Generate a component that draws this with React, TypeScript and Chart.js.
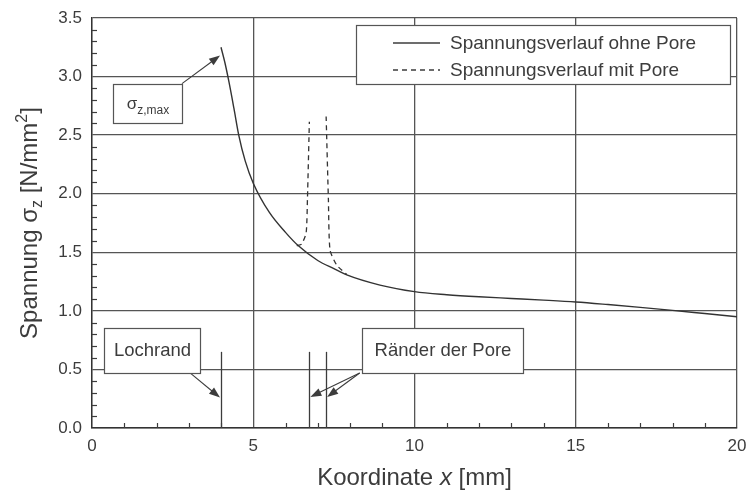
import React, { useEffect, useRef } from 'react';
import { Chart, registerables } from 'chart.js';

Chart.register(...registerables);

// ---- data ----
const xNoPore = [4.0, 4.12, 4.25, 4.4, 4.55, 4.75, 5.0, 5.5, 6.0, 6.4, 7.0, 7.5, 7.9, 8.93, 10, 11, 12, 13, 14, 15, 16, 17, 18, 19, 20];
const yNoPore = [3.25, 3.12, 2.95, 2.73, 2.5, 2.28, 2.09, 1.84, 1.67, 1.555, 1.43, 1.36, 1.307, 1.22, 1.164, 1.138, 1.12, 1.106, 1.092, 1.076, 1.054, 1.03, 1.004, 0.977, 0.95];

const xWithPore = [6.35, 6.5, 6.64, 6.68, 6.74, 7.0, 7.26, 7.33, 7.38, 7.59, 7.9];
const yWithPore = [1.555, 1.57, 1.665, 1.95, 2.615, null, 2.66, 1.95, 1.52, 1.39, 1.31];

const seriesLabels = ['Spannungsverlauf ohne Pore', 'Spannungsverlauf mit Pore'];

const xTicks = [0, 5, 10, 15, 20];
const yTicks = [0.0, 0.5, 1.0, 1.5, 2.0, 2.5, 3.0, 3.5];

// annotation values (data units)
const edgeLines = [4.0, 6.74, 7.26];
const edgeLineTop = 0.65;
const lochrandLabel = 'Lochrand';
const poreLabel = 'Ränder der Pore';
const sigmaPeak = { x: 3.97, y: 3.18 };

const INK = '#3c3c3c';
const FONT = '"Liberation Sans", Arial, sans-serif';

function arrow(ctx: CanvasRenderingContext2D, x1: number, y1: number, x2: number, y2: number) {
  const ang = Math.atan2(y2 - y1, x2 - x1);
  const L = 11, W = 4;
  ctx.beginPath();
  ctx.moveTo(x1, y1);
  ctx.lineTo(x2 - Math.cos(ang) * L * 0.8, y2 - Math.sin(ang) * L * 0.8);
  ctx.stroke();
  ctx.beginPath();
  ctx.moveTo(x2, y2);
  ctx.lineTo(x2 - Math.cos(ang) * L - Math.sin(ang) * W, y2 - Math.sin(ang) * L + Math.cos(ang) * W);
  ctx.lineTo(x2 - Math.cos(ang) * L + Math.sin(ang) * W, y2 - Math.sin(ang) * L - Math.cos(ang) * W);
  ctx.closePath();
  ctx.fill();
}

type Part = { t: string; size: number; dy: number; italic?: boolean };
function rich(ctx: CanvasRenderingContext2D, parts: Part[], cx: number, baseY: number) {
  let total = 0;
  const widths = parts.map((p) => {
    ctx.font = `${p.italic ? 'italic ' : ''}${p.size}px ${FONT}`;
    const w = ctx.measureText(p.t).width;
    total += w;
    return w;
  });
  let x = cx - total / 2;
  ctx.textAlign = 'left';
  ctx.textBaseline = 'alphabetic';
  parts.forEach((p, i) => {
    ctx.font = `${p.italic ? 'italic ' : ''}${p.size}px ${FONT}`;
    ctx.fillText(p.t, x, baseY + p.dy);
    x += widths[i];
  });
}

const annotPlugin = {
  id: 'annot',
  afterDraw(chart: any) {
    const ctx: CanvasRenderingContext2D = chart.ctx;
    const xs = chart.scales.x;
    const ys = chart.scales.y;
    const area = chart.chartArea;
    const X = (v: number) => xs.getPixelForValue(v);
    const Y = (v: number) => ys.getPixelForValue(v);
    ctx.save();
    ctx.strokeStyle = INK;
    ctx.fillStyle = INK;
    ctx.lineWidth = 1.2;

    // minor ticks
    for (let i = 1; i < 35; i++) {
      if (i % 5 === 0) continue;
      const y = Math.round(Y(i / 10)) + 0.5;
      ctx.beginPath();
      ctx.moveTo(area.left, y);
      ctx.lineTo(area.left + 5, y);
      ctx.stroke();
    }
    for (let i = 1; i < 20; i++) {
      if (i % 5 === 0) continue;
      const x = Math.round(X(i)) + 0.5;
      ctx.beginPath();
      ctx.moveTo(x, area.bottom);
      ctx.lineTo(x, area.bottom - 5);
      ctx.stroke();
    }

    // edge lines
    ctx.lineWidth = 1.3;
    edgeLines.forEach((v) => {
      const x = Math.round(X(v)) + 0.5;
      ctx.beginPath();
      ctx.moveTo(x, Y(0));
      ctx.lineTo(x, Y(edgeLineTop));
      ctx.stroke();
    });

    const box = (x0: number, y0: number, x1: number, y1: number) => {
      const l = Math.round(X(x0)) + 0.5, r = Math.round(X(x1)) + 0.5;
      const t = Math.round(Y(y0)) + 0.5, b = Math.round(Y(y1)) + 0.5;
      ctx.fillStyle = '#ffffff';
      ctx.fillRect(l, t, r - l, b - t);
      ctx.strokeStyle = '#555';
      ctx.lineWidth = 1.2;
      ctx.strokeRect(l, t, r - l, b - t);
      ctx.fillStyle = INK;
      ctx.strokeStyle = INK;
      return { l, r, t, b };
    };

    // Lochrand
    ctx.lineWidth = 1.1;
    arrow(ctx, X(3.04), Y(0.47), X(4.0) - 1, Y(0.26));
    const b1 = box(0.37, 0.855, 3.35, 0.47);
    ctx.font = `18.5px ${FONT}`;
    ctx.textAlign = 'center';
    ctx.textBaseline = 'middle';
    ctx.fillText(lochrandLabel, (b1.l + b1.r) / 2, (b1.t + b1.b) / 2);

    // Pore edges
    ctx.lineWidth = 1.1;
    arrow(ctx, X(8.3), Y(0.47), X(6.74) + 1, Y(0.265));
    arrow(ctx, X(8.3), Y(0.47), X(7.26) + 1, Y(0.265));
    const b2 = box(8.37, 0.855, 13.36, 0.47);
    ctx.font = `18.5px ${FONT}`;
    ctx.textAlign = 'center';
    ctx.textBaseline = 'middle';
    ctx.fillText(poreLabel, (b2.l + b2.r) / 2, (b2.t + b2.b) / 2);

    // sigma max
    ctx.lineWidth = 1.1;
    arrow(ctx, X(2.79), Y(2.94), X(sigmaPeak.x), Y(sigmaPeak.y));
    const b3 = box(0.65, 2.94, 2.79, 2.6);
    rich(
      ctx,
      [
        { t: 'σ', size: 17, dy: 0 },
        { t: 'z,max', size: 12, dy: 5 },
      ],
      (b3.l + b3.r) / 2,
      (b3.t + b3.b) / 2 + 5
    );

    // legend
    const lg = { l: area.left + 264.5, t: area.top + 7.5, r: area.left + 638.5, b: area.top + 66.5 };
    ctx.fillStyle = '#fff';
    ctx.fillRect(lg.l, lg.t, lg.r - lg.l, lg.b - lg.t);
    ctx.strokeStyle = '#555';
    ctx.lineWidth = 1.2;
    ctx.strokeRect(lg.l, lg.t, lg.r - lg.l, lg.b - lg.t);
    const rows = [area.top + 25, area.top + 52];
    chart.data.datasets.forEach((ds: any, i: number) => {
      ctx.strokeStyle = INK;
      ctx.lineWidth = 1.3;
      ctx.setLineDash(ds.borderDash || []);
      ctx.beginPath();
      ctx.moveTo(area.left + 301, rows[i]);
      ctx.lineTo(area.left + 348, rows[i]);
      ctx.stroke();
      ctx.setLineDash([]);
      ctx.fillStyle = INK;
      ctx.font = `19px ${FONT}`;
      ctx.textAlign = 'left';
      ctx.textBaseline = 'middle';
      ctx.fillText(ds.label, area.left + 358, rows[i] + 1);
    });

    // axis titles
    ctx.fillStyle = INK;
    rich(
      ctx,
      [
        { t: 'Koordinate ', size: 24, dy: 0 },
        { t: 'x', size: 24, dy: 0, italic: true },
        { t: ' [mm]', size: 24, dy: 0 },
      ],
      (area.left + area.right) / 2,
      485
    );
    ctx.save();
    ctx.translate(28, (area.top + area.bottom) / 2);
    ctx.rotate(-Math.PI / 2);
    rich(
      ctx,
      [
        { t: 'Spannung σ', size: 24, dy: 0 },
        { t: 'z', size: 16, dy: 5 },
        { t: ' [N/mm', size: 24, dy: 0 },
        { t: '2', size: 16, dy: -10 },
        { t: ']', size: 24, dy: 0 },
      ],
      0,
      9
    );
    ctx.restore();

    ctx.restore();
  },
};

export default function App() {
  const ref = useRef<HTMLCanvasElement | null>(null);
  useEffect(() => {
    if (!ref.current) return;
    const chart = new Chart(ref.current, {
      type: 'line',
      data: {
        datasets: [
          {
            label: seriesLabels[0],
            data: xNoPore.map((x, i) => ({ x, y: yNoPore[i] })),
            borderColor: '#333',
            borderWidth: 1.4,
            pointRadius: 0,
            cubicInterpolationMode: 'monotone',
            fill: false,
          },
          {
            label: seriesLabels[1],
            data: xWithPore.map((x, i) => ({ x, y: yWithPore[i] as any })),
            borderColor: '#333',
            borderWidth: 1.3,
            borderDash: [5, 4],
            pointRadius: 0,
            tension: 0.2,
            spanGaps: false,
            fill: false,
          },
        ],
      },
      options: {
        animation: false,
        responsive: false,
        devicePixelRatio: 1,
        layout: { padding: { top: 18, right: 10, left: 0, bottom: 0 } },
        plugins: { legend: { display: false }, tooltip: { enabled: false }, title: { display: false } },
        scales: {
          x: {
            type: 'linear',
            min: 0,
            max: 20,
            afterBuildTicks: (s: any) => {
              s.ticks = xTicks.map((v) => ({ value: v }));
            },
            afterFit: (s: any) => {
              s.height = 64;
              s.paddingLeft = 0;
              s.paddingRight = 0;
            },
            ticks: {
              color: INK,
              font: { family: FONT, size: 17 },
              padding: 8,
              maxRotation: 0,
              callback: (v: any) => String(v),
            },
            grid: { color: '#555', lineWidth: 1.3, drawTicks: false },
            border: { display: true, color: '#333', width: 1.4 },
          },
          y: {
            type: 'linear',
            min: 0,
            max: 3.5,
            afterBuildTicks: (s: any) => {
              s.ticks = yTicks.map((v) => ({ value: v }));
            },
            afterFit: (s: any) => {
              s.width = 92;
              s.paddingTop = 0;
              s.paddingBottom = 0;
            },
            ticks: {
              color: INK,
              font: { family: FONT, size: 17 },
              padding: 10,
              callback: (v: any) => Number(v).toFixed(1),
            },
            grid: { color: '#555', lineWidth: 1.3, drawTicks: false },
            border: { display: true, color: '#333', width: 1.4 },
          },
        },
      },
      plugins: [annotPlugin],
    } as any);
    return () => chart.destroy();
  }, []);
  return (
    <div style={{ position: 'absolute', left: 0, top: 0, width: 747, height: 492, background: '#fff' }}>
      <canvas ref={ref} width={747} height={492} />
    </div>
  );
}
